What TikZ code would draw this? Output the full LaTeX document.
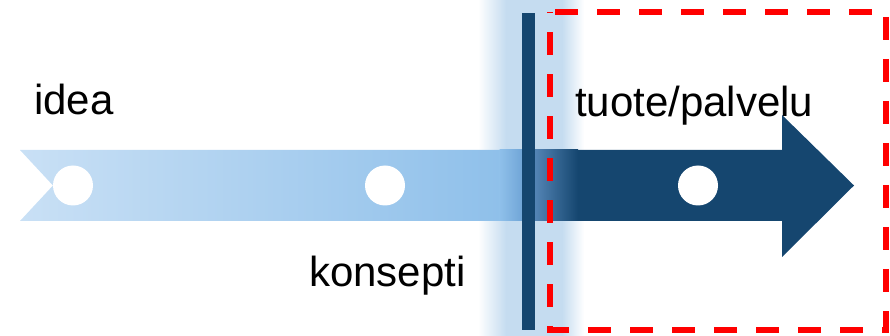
\documentclass[tikz,border=0pt]{standalone}
\usepackage{fontspec}
\setmainfont{Liberation Sans}
\usetikzlibrary{fadings}
\definecolor{darkblue}{HTML}{15466F}
\definecolor{bandA}{HTML}{C9E0F5}
\definecolor{bandB}{HTML}{8FC0EA}
\definecolor{bandC}{HTML}{6AA0D3}
\definecolor{bandD}{HTML}{5F90C2}
\definecolor{glowc}{HTML}{C5DCF0}
\tikzfading[name=fadein, left color=transparent!100, right color=transparent!0]
\tikzfading[name=fadeout, left color=transparent!0, right color=transparent!100]
\tikzset{
  lbl/.style={font=\fontsize{42}{50}\selectfont, text=black, inner sep=0pt},
  dot/.style={circle, fill=white, minimum size=40pt, inner sep=0pt},
  redbox/.style={draw=red, line width=6pt, dash pattern=on 23pt off 19pt, dash phase=37pt},
}
\begin{document}
\begin{tikzpicture}[x=1pt,y=-1pt]
\useasboundingbox (0,0) rectangle (890,336);
% glow behind the bar
\fill[glowc, path fading=fadein] (478,0) rectangle (506,336);
\fill[glowc] (505.5,0) rectangle (562.5,336);
\fill[glowc, path fading=fadeout] (562,0) rectangle (584,336);
% light band
\shade[left color=bandA, right color=bandB] (20,150) -- (500,150) -- (500,221) -- (20,221) -- (53,185.5) -- cycle;
\shade[left color=bandB, right color=bandC] (499.5,150) rectangle (527,221);
% dark arrow
\fill[darkblue] (527,150) -- (782,150) -- (782,115) -- (854,185.5) -- (782,257) -- (782,221) -- (527,221) -- cycle;
\shade[left color=bandD, right color=darkblue] (527,150) rectangle (578,221);
% circles
\node[dot] (c1) at (73,185.5) {};
\node[dot] (c2) at (385,185.5) {};
\node[dot] (c3) at (698,185.5) {};
% bar
\fill[darkblue] (522,13) rectangle (535,330);
% labels
\node[lbl, anchor=base west] (idea) at (34,115) {idea};
\node[lbl, anchor=base west] (kons) at (309,286) {konsepti};
\node[lbl, anchor=base west] (tuote) at (575,117) {tuote/palvelu};
% red dashed box
\draw[redbox] (550,12) -- (886,12) -- (886,330) -- (550,330) -- cycle;
\end{tikzpicture}
\end{document}
